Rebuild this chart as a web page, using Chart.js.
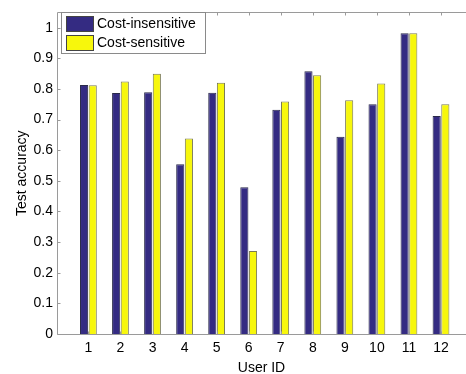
<!DOCTYPE html>
<html>
<head>
<meta charset="utf-8">
<script src="https://cdn.jsdelivr.net/npm/chart.js@4.4.0/dist/chart.umd.min.js"></script>
<style>
html,body{margin:0;padding:0;background:#fff;overflow:hidden;}
#wrap{width:466px;height:374px;position:relative;}
canvas{display:block;}
</style>
</head>
<body>
<div id="wrap"><canvas id="c" width="466" height="374"></canvas></div>
<script>
const userIds = [1,2,3,4,5,6,7,8,9,10,11,12];
const costInsensitive = [0.813,0.787,0.789,0.554,0.788,0.479,0.732,0.858,0.644,0.750,0.982,0.712];
const costSensitive   = [0.812,0.824,0.850,0.638,0.820,0.271,0.759,0.845,0.763,0.818,0.982,0.750];
const yTickValues = [0,0.1,0.2,0.3,0.4,0.5,0.6,0.7,0.8,0.9,1];
const seriesNames = ['Cost-insensitive','Cost-sensitive'];

const FONT = "'Liberation Sans', Arial, Helvetica, sans-serif";
const AXIS_COLOR = '#9a9a9a';

const axesFrame = {
  id: 'axesFrame',
  afterDraw(chart) {
    const {ctx, chartArea: a, scales: {x, y}} = chart;
    ctx.save();
    // keep the right side open (the reference has no right axis line)
    ctx.fillStyle = '#fff';
    ctx.fillRect(a.right - 3, a.top + 1, 3, a.bottom - a.top - 1);
    ctx.strokeStyle = AXIS_COLOR;
    ctx.lineWidth = 1;
    const L = Math.round(a.left) + 0.5, T = Math.round(a.top) + 0.5, B = Math.round(a.bottom) + 0.5;
    ctx.beginPath();
    ctx.moveTo(L, T); ctx.lineTo(a.right, T);
    ctx.moveTo(L, T); ctx.lineTo(L, B);
    ctx.moveTo(L, B); ctx.lineTo(a.right, B);
    yTickValues.forEach(v => {
      const py = Math.round(y.getPixelForValue(v)) + 0.5;
      ctx.moveTo(L, py); ctx.lineTo(L + 3, py);
    });
    userIds.forEach(v => {
      const px = Math.round(x.getPixelForValue(v)) + 0.5;
      ctx.moveTo(px, T); ctx.lineTo(px, T + 3);
      ctx.moveTo(px, B); ctx.lineTo(px, B - 3);
    });
    ctx.stroke();
    ctx.restore();
  }
};

const boxLegend = {
  id: 'boxLegend',
  afterDraw(chart) {
    const ctx = chart.ctx;
    ctx.save();
    ctx.fillStyle = '#fff';
    ctx.strokeStyle = '#8a8a8a';
    ctx.lineWidth = 1;
    ctx.fillRect(61.5, 12.5, 144, 41);
    ctx.strokeRect(61.5, 12.5, 144, 41);
    const rows = [16, 35];
    chart.data.datasets.forEach((ds, i) => {
      ctx.fillStyle = ds.backgroundColor;
      ctx.fillRect(66.5, rows[i] + 0.5, 27, 15);
      ctx.strokeStyle = '#444';
      ctx.strokeRect(66.5, rows[i] + 0.5, 27, 15);
      ctx.fillStyle = '#000';
      ctx.font = '14px ' + FONT;
      ctx.textBaseline = 'middle';
      ctx.textAlign = 'left';
      ctx.fillText(ds.label, 97, rows[i] + 8);
    });
    ctx.restore();
  }
};

new Chart(document.getElementById('c'), {
  type: 'bar',
  data: {
    datasets: [
      {
        label: seriesNames[0],
        data: userIds.map((u, i) => ({x: u, y: costInsensitive[i]})),
        backgroundColor: '#342b82',
        borderColor: '#2a2a4a',
        borderWidth: 1,
        borderSkipped: 'bottom'
      },
      {
        label: seriesNames[1],
        data: userIds.map((u, i) => ({x: u, y: costSensitive[i]})),
        backgroundColor: '#f7f70c',
        borderColor: '#7a7a55',
        borderWidth: 1,
        borderSkipped: 'bottom'
      }
    ]
  },
  options: {
    responsive: false,
    animation: false,
    devicePixelRatio: 1,
    categoryPercentage: 0.54,
    barPercentage: 0.94,
    layout: {padding: {top: 7, left: 0, right: 0, bottom: 0}},
    plugins: {
      legend: {display: false},
      tooltip: {enabled: false}
    },
    scales: {
      x: {
        type: 'linear',
        offset: false,
        min: 0.02,
        max: 12.78,
        grid: {display: false, drawTicks: false},
        border: {display: false},
        afterBuildTicks(scale) { scale.ticks = userIds.map(v => ({value: v})); },
        afterFit(scale) { scale.height = 40; },
        ticks: {
          color: '#000',
          font: {family: FONT, size: 14},
          padding: 6,
          maxRotation: 0,
          autoSkip: false,
          callback: v => String(v)
        },
        title: {
          display: true,
          text: 'User ID',
          color: '#000',
          font: {family: FONT, size: 14},
          padding: {top: 0, bottom: -3}
        }
      },
      y: {
        min: 0,
        max: 1.05,
        grid: {display: false, drawTicks: false},
        border: {display: false},
        afterBuildTicks(scale) { scale.ticks = yTickValues.map(v => ({value: v})); },
        afterFit(scale) { scale.width = 57; },
        ticks: {
          color: '#000',
          font: {family: FONT, size: 14},
          padding: 4,
          callback: v => String(Math.round(v * 10) / 10)
        },
        title: {
          display: true,
          text: 'Test accuracy',
          color: '#000',
          font: {family: FONT, size: 14},
          padding: {top: 14, bottom: 0}
        }
      }
    }
  },
  plugins: [axesFrame, boxLegend]
});
</script>
</body>
</html>
